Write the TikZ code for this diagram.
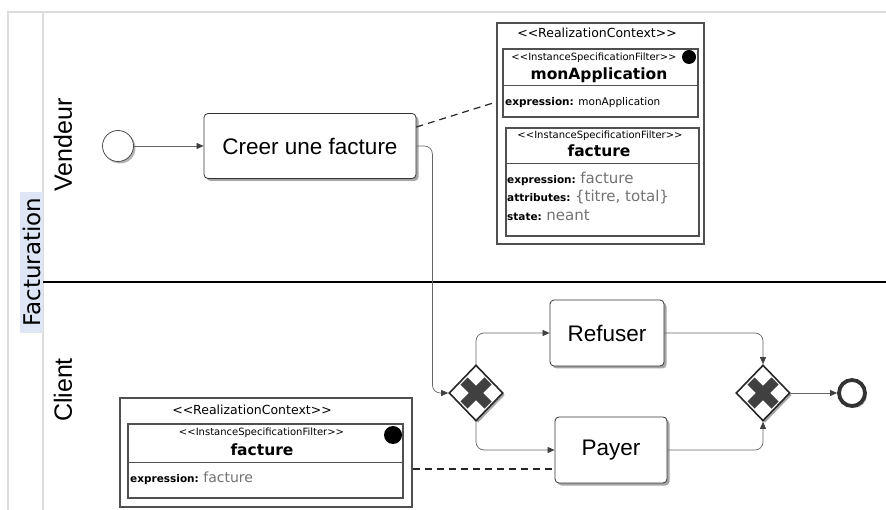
\documentclass[tikz,border=0pt]{standalone}
\usepackage{fontspec}
\setmainfont{DejaVu Sans}
\newfontfamily\arialf{Liberation Sans}
\usetikzlibrary{shapes.geometric,shadows,arrows.meta}
\newcommand\mylt{<\kern0pt<}
\newcommand\mygt{>\kern0pt>}
\definecolor{poolc}{HTML}{DCDCDC}
\definecolor{bluebg}{RGB}{222,230,246}
\definecolor{flowc}{HTML}{666666}
\definecolor{umlc}{HTML}{505050}
\begin{document}
\begin{tikzpicture}[x=1pt,y=-1pt,
  pool/.style={draw=poolc,line width=1.5pt},
  lane/.style={font=\arialf\fontsize{25}{30}\selectfont,rotate=90,inner sep=0pt},
  task/.style={draw=black!80,line width=0.8pt,rounded corners=4pt,fill=white,
    font=\arialf\fontsize{22.5}{27}\selectfont,inner sep=0pt,
    drop shadow={shadow xshift=2.5pt,shadow yshift=-2.5pt,fill=black!35,opacity=1}},
  flow/.style={draw=flowc,line width=0.7pt,rounded corners=8pt,
    -{Triangle[length=7pt,width=6pt,fill=black!75,color=black!75]}},
  gw/.style={diamond,draw=black!85,line width=1.6pt,fill=white,minimum width=54pt,
    minimum height=56pt,inner sep=0pt,
    drop shadow={shadow xshift=2pt,shadow yshift=-2pt,fill=black!35,opacity=1}},
  xmark/.style={draw=black!75,line width=10pt},
  startev/.style={circle,draw=black!70,line width=0.8pt,fill=white,minimum size=31pt,inner sep=0pt,
    drop shadow={shadow xshift=2pt,shadow yshift=-2pt,fill=black!30,opacity=1}},
  endev/.style={circle,draw=black!80,line width=3.8pt,fill=white,minimum size=26pt,inner sep=0pt,
    drop shadow={shadow xshift=2pt,shadow yshift=-2pt,fill=black!30,opacity=1}},
  rc/.style={draw=umlc,line width=1.4pt,fill=white,inner sep=0pt},
  isf/.style={draw=umlc,line width=1.2pt,fill=white,inner sep=0pt},
  sep/.style={draw=umlc,line width=1pt},
  rctitle/.style={font=\fontsize{12.5}{15}\selectfont,inner sep=0pt},
  stereo/.style={font=\fontsize{10}{12}\selectfont,inner sep=0pt},
  fname/.style={font=\bfseries\fontsize{15.5}{18}\selectfont,inner sep=0pt},
  attr/.style={anchor=west,inner sep=0pt,font=\fontsize{10.5}{13}\selectfont},
  dot/.style={circle,fill=black,inner sep=0pt},
  assoc/.style={draw=black!85,line width=1.2pt,dash pattern=on 7pt off 5pt}
]
\useasboundingbox (0,0) rectangle (886,510);
% pool
\draw[pool] (8,510) -- (8,12) -- (886,12);
\draw[pool] (43,12) -- (43,510);
\fill[bluebg] (20,192) rectangle (43,333);
\node[rotate=90,inner sep=0pt,font=\fontsize{23}{27}\selectfont] (pname) at (32,262) {Facturation};
\node[lane] (l1) at (63,145) {Vendeur};
\node[lane] (l2) at (63,390) {Client};
\draw[black,line width=2.5pt] (43,282) -- (886,282);

% events and tasks
\node[startev] (start) at (118,146) {};
\node[task,minimum width=212pt,minimum height=65pt] (creer) at (310,146) {Creer une facture};
\node[gw] (g1) at (476,393) {};
\node[task,minimum width=114pt,minimum height=66pt] (refuser) at (607,333) {Refuser};
\node[task,minimum width=112pt,minimum height=66pt] (payer) at (611,450) {Payer};
\node[gw] (g2) at (763,393) {};
\node[endev] (end) at (852,393) {};
\foreach \g in {g1,g2}{
  \draw[xmark] ([shift={(-12pt,-12pt)}]\g.center) -- ([shift={(12pt,12pt)}]\g.center);
  \draw[xmark] ([shift={(-12pt,12pt)}]\g.center) -- ([shift={(12pt,-12pt)}]\g.center);
}

% flows
\draw[flow] (start) -- (creer);
\draw[flow] (creer.east) -- ++(16,0) |- (g1.west);
\draw[flow] (g1.north) |- (refuser.west);
\draw[flow] (g1.south) |- (payer.west);
\draw[flow] (refuser.east) -| (g2.north);
\draw[flow] (payer.east) -| (g2.south);
\draw[flow] (g2.east) -- (end.west);

% realization context 1
\node[rc,minimum width=207pt,minimum height=221pt] (rc1) at (600.5,133.5) {};
\node[rctitle] (rc1t) at (597,33) {\mylt RealizationContext\mygt};
\node[isf,minimum width=195pt,minimum height=68pt] (f1) at (600.5,83) {};
\draw[sep] (f1.west |- 0,86) -- (f1.east |- 0,86);
\node[stereo] (f1s) at (594,58) {\mylt InstanceSpecificationFilter\mygt};
\node[fname] (f1n) at (599,75) {monApplication};
\node[dot,minimum size=14pt] (f1d) at (689,57) {};
\node[attr] (f1a) at (505,103) {\textbf{expression:} monApplication};
\node[isf,minimum width=193pt,minimum height=108pt] (f2) at (602.5,182) {};
\draw[sep] (f2.west |- 0,164) -- (f2.east |- 0,164);
\node[stereo] (f2s) at (600,136) {\mylt InstanceSpecificationFilter\mygt};
\node[fname] (f2n) at (599,151) {facture};
\node[attr] (f2a) at (507,179) {\textbf{expression:} {\color{black!55}\fontsize{15}{18}\selectfont facture}};
\node[attr] (f2b) at (507,197) {\textbf{attributes:} {\color{black!55}\fontsize{15}{18}\selectfont \{titre, total\}}};
\node[attr] (f2c) at (507,215) {\textbf{state:} {\color{black!55}\fontsize{15}{18}\selectfont neant}};

% realization context 2
\node[rc,minimum width=292pt,minimum height=109pt] (rc2) at (266,452.5) {};
\node[rctitle] (rc2t) at (252,410) {\mylt RealizationContext\mygt};
\node[isf,minimum width=275pt,minimum height=74pt] (f3) at (265.5,461) {};
\draw[sep] (f3.west |- 0,462) -- (f3.east |- 0,462);
\node[stereo] (f3s) at (261.5,433) {\mylt InstanceSpecificationFilter\mygt};
\node[fname] (f3n) at (262,450) {facture};
\node[dot,minimum size=18pt] (f3d) at (393,435) {};
\node[attr] (f3a) at (130,478) {\textbf{expression:} {\color{black!55}\fontsize{14}{17}\selectfont facture}};

% associations
\draw[assoc] (creer.east |- 0,127) -- (rc1.west |- 0,102);
\draw[assoc] (rc2.east |- 0,469) -- (payer.west |- 0,469);
\end{tikzpicture}
\end{document}
